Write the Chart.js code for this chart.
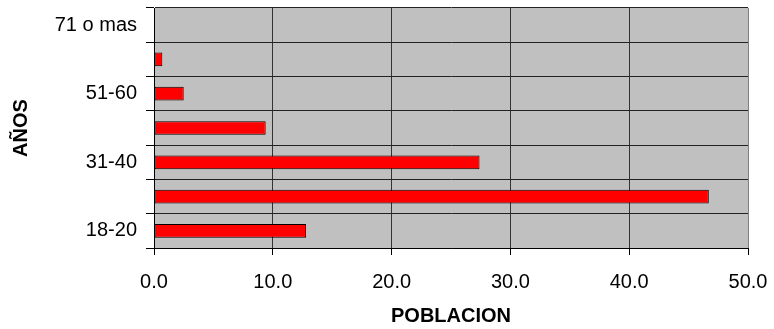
<!DOCTYPE html>
<html>
<head>
<meta charset="utf-8">
<script src="https://cdn.jsdelivr.net/npm/chart.js@4.4.1/dist/chart.umd.min.js"></script>
<style>
  body { margin: 0; background: #fff; }
  #wrap { width: 774px; height: 329px; position: relative; }
</style>
</head>
<body>
<div id="wrap"><canvas id="Charts"></canvas></div>
<script>
// grupos de edad, de abajo hacia arriba
var edades = ['18-20', '21-30', '31-40', '41-50', '51-60', '61-70', '71 o mas'];
// poblacion (%) por grupo
var poblacion = [12.8, 46.7, 27.4, 9.4, 2.5, 0.7, 0];
// etiquetas del eje x
var xticks = [0, 10, 20, 30, 40, 50];

var fondo = {
    id: 'fondo',
    beforeDraw: function(chart){
        var a = chart.chartArea;
        var c = chart.ctx;
        c.save();
        c.fillStyle = '#C0C0C0';
        c.fillRect(a.left, a.top, a.right - a.left, a.bottom - a.top);
        c.restore();
    }
};

Chart.defaults.font.family = "'Liberation Sans', Arial, sans-serif";
Chart.defaults.color = '#000';

var ctx = document.getElementById('Charts').getContext('2d');
var myChart = new Chart(ctx, {
    type: 'bar',
    data: {
        labels: edades,
        datasets: [{
            data: poblacion,
            backgroundColor: '#FF0000',
            borderColor: '#000',
            borderWidth: 1,
            borderSkipped: false,
            barPercentage: 0.4,
            categoryPercentage: 1
        }]
    },
    options: {
        indexAxis: 'y',
        responsive: true,
        maintainAspectRatio: false,
        animation: false,
        layout: { padding: { left: 0, top: 8, right: 26, bottom: 0 } },
        plugins: { legend: { display: false }, tooltip: { enabled: false } },
        scales: {
            x: {
                min: 0,
                max: 50,
                afterBuildTicks: function(s){ s.ticks = xticks.map(function(v){ return { value: v }; }); },
                afterFit: function(s){ s.height = 81; s.paddingLeft = 0; s.paddingRight = 0; },
                ticks: {
                    font: { size: 20 },
                    padding: 15,
                    maxRotation: 0,
                    callback: function(v){ return v.toFixed(1); }
                },
                grid: {
                    color: function(c){ return c.index === xticks.length - 1 ? '#808080' : '#333'; },
                    tickColor: '#000',
                    tickLength: 7,
                    lineWidth: 1
                },
                border: { color: '#000', width: 1 },
                title: {
                    display: true,
                    text: 'POBLACION',
                    font: { size: 20, weight: 'bold' },
                    padding: { top: 1, bottom: 1 }
                }
            },
            y: {
                reverse: true,
                afterFit: function(s){ s.width = 154; s.paddingTop = 0; s.paddingBottom = 0; },
                ticks: {
                    autoSkip: false,
                    font: { size: 20 },
                    padding: 9,
                    callback: function(v, i){ return i % 2 === 0 ? edades[i] : ''; }
                },
                grid: {
                    offset: true,
                    color: function(c){ return c.index === edades.length ? '#808080' : '#222'; },
                    tickColor: '#000',
                    tickLength: 8,
                    lineWidth: 1
                },
                border: { color: '#000', width: 1 },
                title: {
                    display: true,
                    text: 'AÑOS',
                    font: { size: 20, weight: 'bold' },
                    padding: { top: 9, bottom: 0 }
                }
            }
        }
    },
    plugins: [fondo]
});
</script>
</body>
</html>
